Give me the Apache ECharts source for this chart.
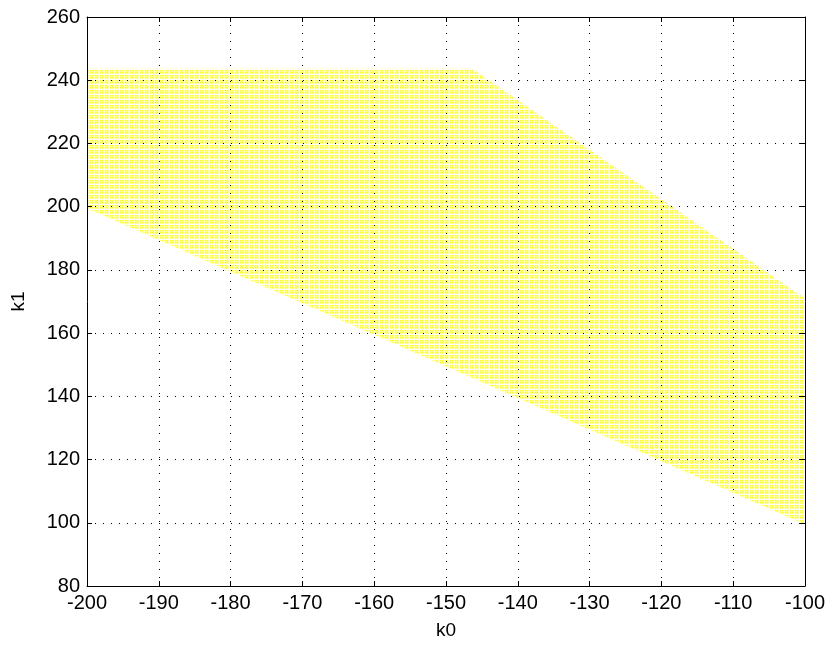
<!DOCTYPE html>
<html>
<head>
<meta charset="utf-8">
<script src="https://cdn.jsdelivr.net/npm/echarts@6/dist/echarts.min.js"></script>
<style>
  html, body {margin: 0; padding: 0; background: #fff;}
  #chart {width: 828px; height: 645px;}
</style>
</head>
<body>
<div id="chart"></div>
<script>
// corners of the stable (k0, k1) region, going round the polygon
var regionK0 = [-200, -146.3, -100, -100, -200];
var regionK1 = [243.6, 243.6, 171, 99.5, 199.5];

var xTicks = [-200, -190, -180, -170, -160, -150, -140, -130, -120, -110, -100];
var yTicks = [80, 100, 120, 140, 160, 180, 200, 220, 240, 260];

// dotted yellow texture, like the sampled grid of points
function dotPattern() {
  var c = document.createElement('canvas');
  c.width = 5; c.height = 5;
  var g = c.getContext('2d');
  g.fillStyle = '#ffffff';
  g.fillRect(0, 0, 5, 5);
  g.fillStyle = '#ffff88';
  [[0, 0], [2, 0], [0, 2], [2, 2]].forEach(function (p) {
    g.fillRect(p[0], p[1], 2, 2);
  });
  g.fillStyle = '#ffff00';
  [[0, 0], [2, 0], [0, 2], [2, 2]].forEach(function (p) {
    g.fillRect(p[0], p[1], 1, 1);
  });
  return c;
}

var chart = echarts.init(document.getElementById('chart'));
var font = 'Liberation Sans, Arial, sans-serif';
var dotted = {color: '#000', width: 1, type: [1, 7]};

var baseX = {
  type: 'value', min: xTicks[0], max: xTicks[xTicks.length - 1], interval: 10,
  axisLine: {show: true, onZero: false, lineStyle: {color: '#000', width: 1}},
  axisTick: {show: true, inside: true, length: 5, lineStyle: {color: '#000'}},
  splitLine: {show: false}
};
var baseY = {
  type: 'value', min: yTicks[0], max: yTicks[yTicks.length - 1], interval: 20,
  axisLine: {show: true, onZero: false, lineStyle: {color: '#000', width: 1}},
  axisTick: {show: true, inside: true, length: 5, lineStyle: {color: '#000'}},
  splitLine: {show: false}
};

chart.setOption({
  animation: false,
  backgroundColor: '#fff',
  grid: {left: 87, right: 22, top: 17, bottom: 59, show: false},
  xAxis: [
    Object.assign({}, baseX, {
      position: 'bottom',
      name: 'k0', nameLocation: 'middle', nameGap: 35,
      nameTextStyle: {color: '#000', fontSize: 19, fontFamily: font},
      axisLabel: {color: '#000', fontSize: 20, fontFamily: font, margin: 7},
      splitLine: {show: true, lineStyle: dotted}
    }),
    Object.assign({}, baseX, {position: 'top', axisLabel: {show: false}})
  ],
  yAxis: [
    Object.assign({}, baseY, {
      position: 'left',
      name: 'k1', nameLocation: 'middle', nameGap: 59,
      nameTextStyle: {color: '#000', fontSize: 19, fontFamily: font},
      axisLabel: {color: '#000', fontSize: 20, fontFamily: font, margin: 7},
      splitLine: {show: true, lineStyle: dotted}
    }),
    Object.assign({}, baseY, {position: 'right', axisLabel: {show: false}})
  ],
  series: [{
    type: 'custom',
    z: -1,
    silent: true,
    data: [0],
    renderItem: function (params, api) {
      var pts = regionK0.map(function (k0, i) {
        return api.coord([k0, regionK1[i]]);
      });
      return {
        type: 'polygon',
        shape: {points: pts},
        style: {fill: {image: dotPattern(), repeat: 'repeat'}, stroke: null}
      };
    }
  }]
});
</script>
</body>
</html>
